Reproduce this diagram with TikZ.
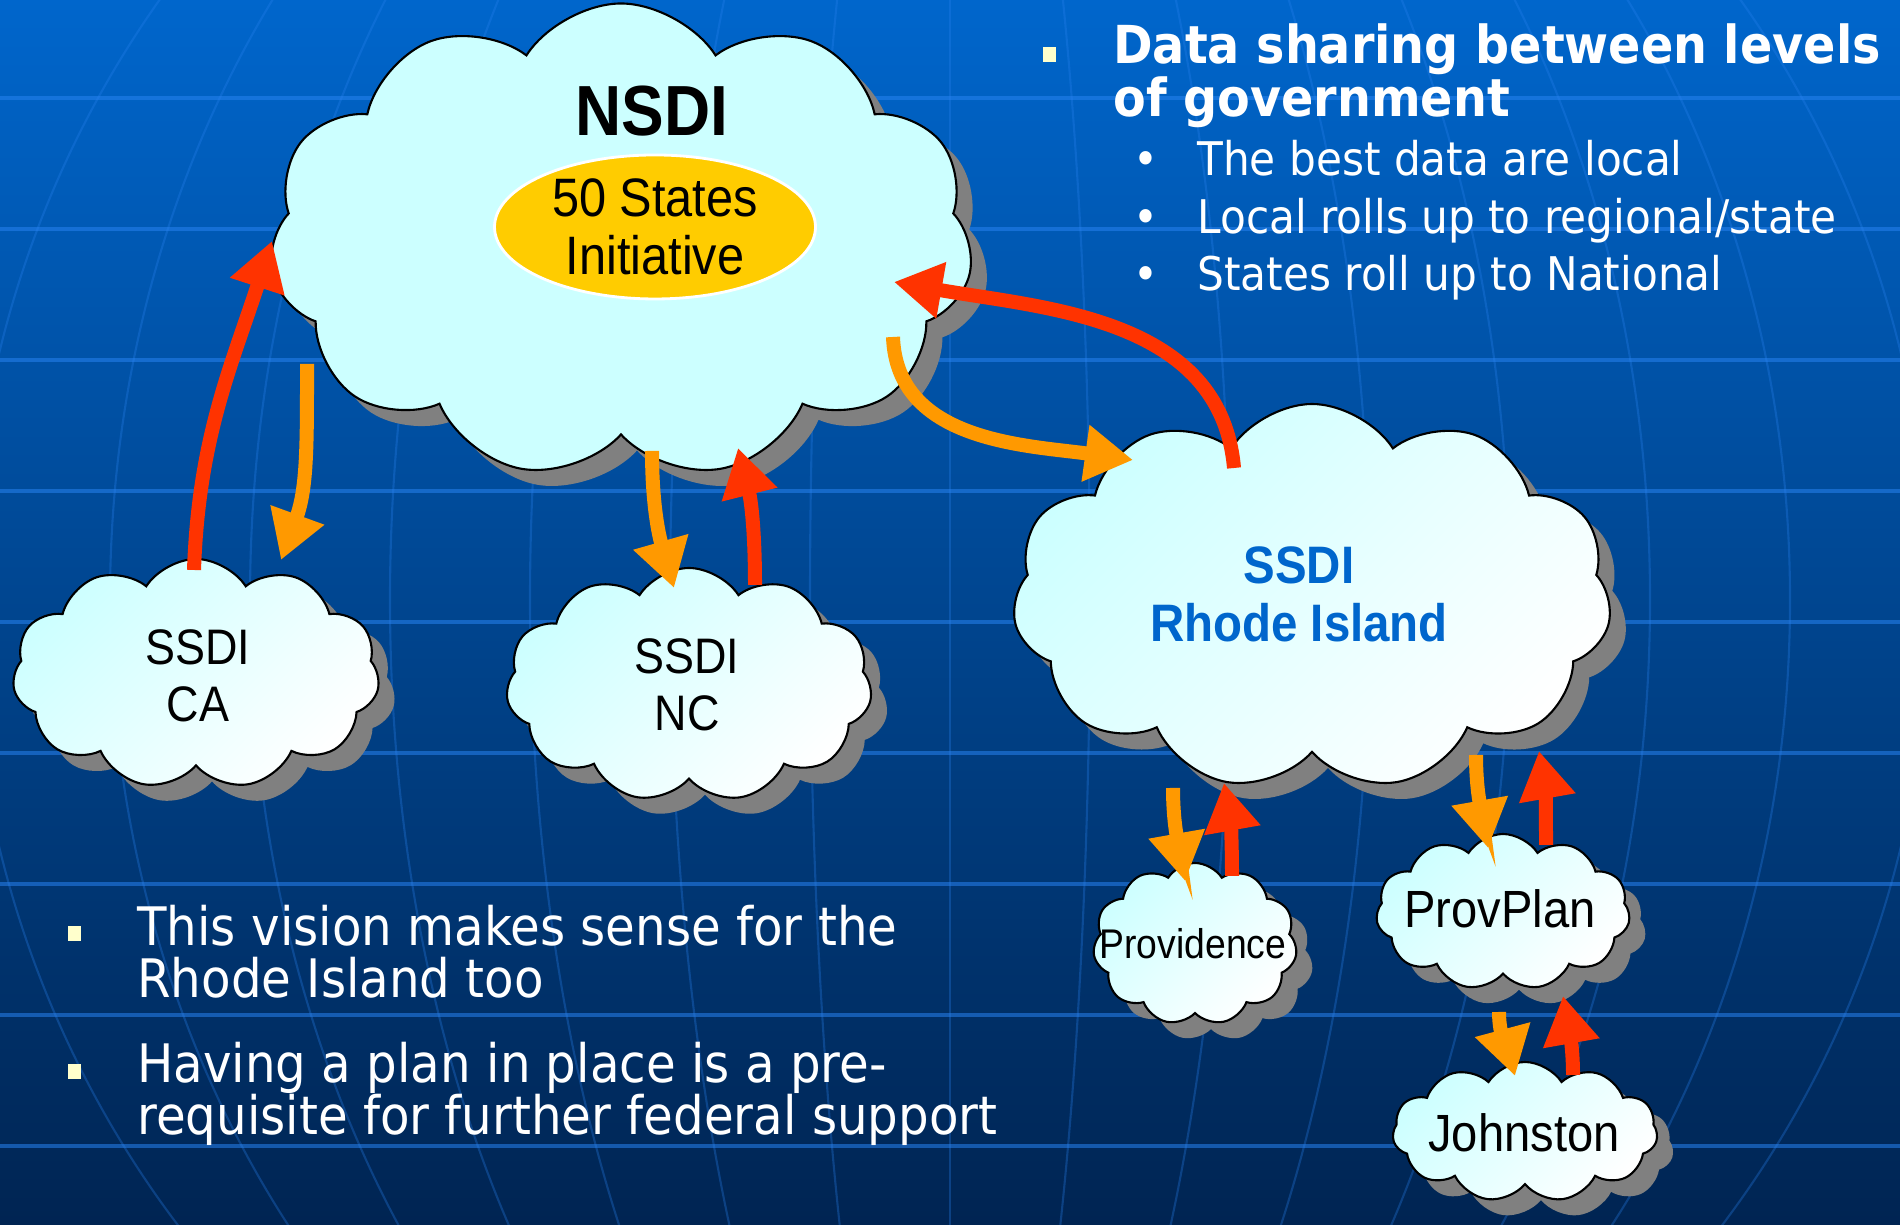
\documentclass[tikz,border=0pt]{standalone}
\usepackage{fontspec}
\usetikzlibrary{shapes.symbols,shapes.geometric,shadows,arrows.meta}
\newfontfamily\arialfont[FakeStretch=0.9]{Liberation Sans}
\newfontfamily\tahomafont[FakeStretch=0.91]{DejaVu Sans}
\definecolor{bgtop}{RGB}{0,102,204}
\definecolor{bgmid}{RGB}{0,78,160}
\definecolor{bgbot}{RGB}{0,36,82}
\definecolor{gridblue}{RGB}{40,130,240}
\definecolor{cloudcyan}{RGB}{204,255,255}
\definecolor{shadowgray}{RGB}{128,128,128}
\definecolor{ovalyellow}{RGB}{255,204,0}
\definecolor{riblue}{RGB}{0,102,204}
\definecolor{arrred}{RGB}{255,51,0}
\definecolor{arrorange}{RGB}{255,153,0}
\definecolor{bulletyellow}{RGB}{255,255,204}
\tikzset{% styles for clouds, arrows and texts
  puff/.style={cloud, cloud puffs=11, cloud puff arc=115, cloud ignores aspect,
    draw=black, line width=0.6pt, inner sep=0pt,
    top color=cloudcyan, bottom color=white, shading angle=45,
    drop shadow={shadow xshift=0.16cm, shadow yshift=-0.16cm, fill=shadowgray, opacity=1}},
  redarr/.style={draw=arrred, line width=0.14cm, -{Triangle[length=0.48cm,width=0.54cm]}},
  orarr/.style={draw=arrorange, line width=0.14cm, -{Triangle[length=0.48cm,width=0.54cm]}},
  gridh/.style={draw=gridblue, line width=0.9pt, opacity=0.55},
  gridv/.style={draw=gridblue, line width=0.6pt, opacity=0.3},
  sq/.style={fill=bulletyellow, minimum width=0.13cm, minimum height=0.15cm, inner sep=0pt},
  lbl/.style={align=center, inner sep=0pt, font=\arialfont\fontsize{14.2pt}{16.3pt}\selectfont},
  bodytxt/.style={text=white, align=left, inner sep=0pt, anchor=base west}
}

\begin{document}
\begin{tikzpicture}[thick]
\useasboundingbox (0,0) rectangle (19,12.25);

% background with the globe grid
\shade[top color=bgtop, middle color=bgmid, bottom color=bgbot] (0,0) rectangle (19,12.25);
\begin{scope}
\clip (0,0) rectangle (19,12.25);
\foreach \a in {1.4,2.8,...,11.2}
  \draw[gridv] (9.5,6.25) ellipse [x radius=\a, y radius=10.15];
\draw[gridv] (9.5,0) -- (9.5,12.25);
\foreach \y in {11.27,9.96,8.65,7.34,6.03,4.72,3.41,2.10,0.79}
  \draw[gridh] (0,\y) -- (19,\y);
\end{scope}

% clouds
\node[puff, top color=cloudcyan, bottom color=cloudcyan, shading angle=45,
  minimum width=7.04cm, minimum height=4.75cm] (nsdi) at (6.21,9.84) {};
\node[puff, minimum width=3.67cm, minimum height=2.30cm] (ca) at (1.96,5.51) {};
\node[puff, minimum width=3.66cm, minimum height=2.34cm] (nc) at (6.89,5.40) {};
\node[puff, minimum width=5.99cm, minimum height=3.86cm] (ri) at (13.12,6.28) {};
\node[puff, minimum width=2.04cm, minimum height=1.62cm] (prov) at (11.95,2.81) {};
\node[puff, minimum width=2.54cm, minimum height=1.56cm] (plan) at (15.03,3.13) {};
\node[puff, minimum width=2.65cm, minimum height=1.40cm] (john) at (15.25,0.93) {};

% labels in the clouds
\node[lbl, font=\arialfont\bfseries\fontsize{20.2pt}{24pt}\selectfont] (nsdi-t) at (6.52,11.14) {NSDI};
\node[ellipse, fill=ovalyellow, draw=white, line width=0.8pt, inner sep=0pt,
  minimum width=3.21cm, minimum height=1.44cm, align=center,
  font=\arialfont\fontsize{15.4pt}{16.5pt}\selectfont] (fifty) at (6.55,9.98) {50 States\\Initiative};
\node[lbl] (ca-t) at (1.98,5.49) {SSDI\\CA};
\node[lbl] (nc-t) at (6.87,5.40) {SSDI\\NC};
\node[lbl, text=riblue, font=\arialfont\bfseries\fontsize{15pt}{16.5pt}\selectfont] (ri-t) at (12.99,6.31) {SSDI\\Rhode Island};
\node[lbl, font=\arialfont\fontsize{11.8pt}{14pt}\selectfont] (prov-t) at (11.93,2.81) {Providence};
\node[lbl, font=\arialfont\fontsize{14.9pt}{17pt}\selectfont] (plan-t) at (15.00,3.16) {ProvPlan};
\node[lbl, font=\arialfont\fontsize{14.9pt}{17pt}\selectfont] (john-t) at (15.24,0.92) {Johnston};

% arrows down (orange) and up (red)
\draw[redarr] ([shift={(-0.02,1.04)}]ca.center) to[out=88,in=252] (nsdi.west);
\draw[orarr] ([shift={(-3.14,-1.23)}]nsdi.center) to[out=-90,in=70] ([shift={(0.85,1.14)}]ca.center);
\draw[orarr] ([shift={(0.31,-2.10)}]nsdi.center) to[out=-90,in=106] ([shift={(-0.15,0.97)}]nc.center);
\draw[redarr] ([shift={(0.66,1.00)}]nc.center) to[out=90,in=284] ([shift={(1.17,-2.07)}]nsdi.center);
\draw[orarr] ([shift={(2.72,-0.96)}]nsdi.center) to[out=-88,in=172] ([shift={(-1.79,1.37)}]ri.center);
\draw[redarr] ([shift={(-0.78,1.29)}]ri.center) to[out=95,in=-10] ([shift={(2.73,-0.41)}]nsdi.center);
\draw[orarr] ([shift={(-1.39,-1.91)}]ri.center) to[out=-90,in=100] ([shift={(-0.10,0.63)}]prov.center);
\draw[redarr] ([shift={(0.37,0.68)}]prov.center) to[out=90,in=280] ([shift={(-0.88,-1.86)}]ri.center);
\draw[orarr] ([shift={(1.64,-1.58)}]ri.center) to[out=-90,in=100] ([shift={(-0.15,0.64)}]plan.center);
\draw[redarr] ([shift={(0.43,0.67)}]plan.center) to[out=90,in=280] ([shift={(2.27,-1.54)}]ri.center);
\draw[orarr] ([shift={(-0.04,-1.00)}]plan.center) to[out=-90,in=105] ([shift={(-0.10,0.56)}]john.center);
\draw[redarr] ([shift={(0.48,0.57)}]john.center) to[out=90,in=280] ([shift={(0.60,-0.84)}]plan.center);

% bullet text top right
\node[sq] (sq1) at (10.49,11.70) {};
\node[bodytxt, font=\tahomafont\bfseries\fontsize{14.9pt}{15.1pt}\selectfont] (head) at (11.12,11.08)
  {Data sharing between levels\\of government};
\foreach \y/\t [count=\i] in {10.49/The best data are local,
    9.91/Local rolls up to regional\slash state,
    9.34/States roll up to National} {
  \node[text=white, anchor=base, inner sep=0pt, font=\tahomafont\fontsize{13.2pt}{15pt}\selectfont] (dot\i) at (11.46,\y) {•};
  \node[bodytxt, font=\tahomafont\fontsize{13.2pt}{15pt}\selectfont] (sub\i) at (11.96,\y) {\t};
}

% bullet text bottom left
\node[sq] (sq2) at (0.74,2.91) {};
\node[bodytxt, font=\tahomafont\fontsize{15.1pt}{14.9pt}\selectfont] (vision) at (1.36,2.27)
  {This vision makes sense for the\\Rhode Island too};
\node[sq] (sq3) at (0.74,1.53) {};
\node[bodytxt, font=\tahomafont\fontsize{15.1pt}{14.9pt}\selectfont] (plan-txt) at (1.36,0.90)
  {Having a plan in place is a pre-\\requisite for further federal support};

\end{tikzpicture}
\end{document}
